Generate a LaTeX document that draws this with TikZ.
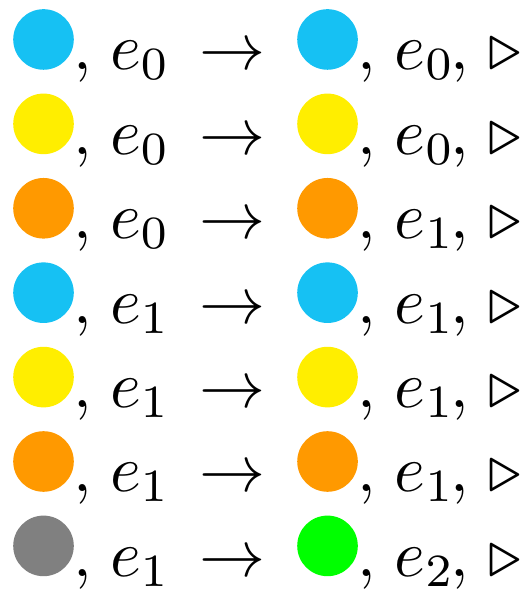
\documentclass[tikz,border=0pt]{standalone}
\definecolor{cy}{RGB}{22,193,243}
\definecolor{ye}{RGB}{255,238,0}
\definecolor{orr}{RGB}{255,153,0}
\definecolor{gr}{RGB}{128,128,128}
\definecolor{gn}{RGB}{0,255,0}
\begin{document}
\begin{tikzpicture}[x={(0.15152pt,0)},y={(0,-0.15152pt)},
  dot/.style={circle,inner sep=0pt,minimum size=9.18pt},
  txt/.style={anchor=base west,inner sep=0pt,outer sep=0pt}]
\useasboundingbox (0,0) rectangle (525,592);
\foreach \i/\lc/\ls/\rc/\rs in {0/cy/0/cy/0,1/ye/0/ye/0,2/orr/0/orr/1,3/cy/1/cy/1,4/ye/1/ye/1,5/orr/1/orr/1,6/gr/1/gn/2}{
  \pgfmathsetmacro{\yc}{39.5+84.4*\i}
  \pgfmathsetmacro{\yb}{\yc+30.5}
  \node[dot,fill=\lc] (l\i) at (43.5,\yc) {};
  \node[txt] (lc\i) at (73,\yb) {$,$};
  \node[txt] (le\i) at (110,\yb) {$e_{\ls}$};
  \node[txt] (ar\i) at (199.6,\yb) {$\rightarrow$};
  \node[dot,fill=\rc] (r\i) at (327.5,\yc) {};
  \node[txt] (rc\i) at (357,\yb) {$,$};
  \node[txt] (re\i) at (394.5,\yb) {$e_{\rs}$};
  \node[txt] (rd\i) at (450,\yb) {$,$};
  \node[txt] (tr\i) at (488,\yb) {$\triangleright$};
}
\end{tikzpicture}
\end{document}
